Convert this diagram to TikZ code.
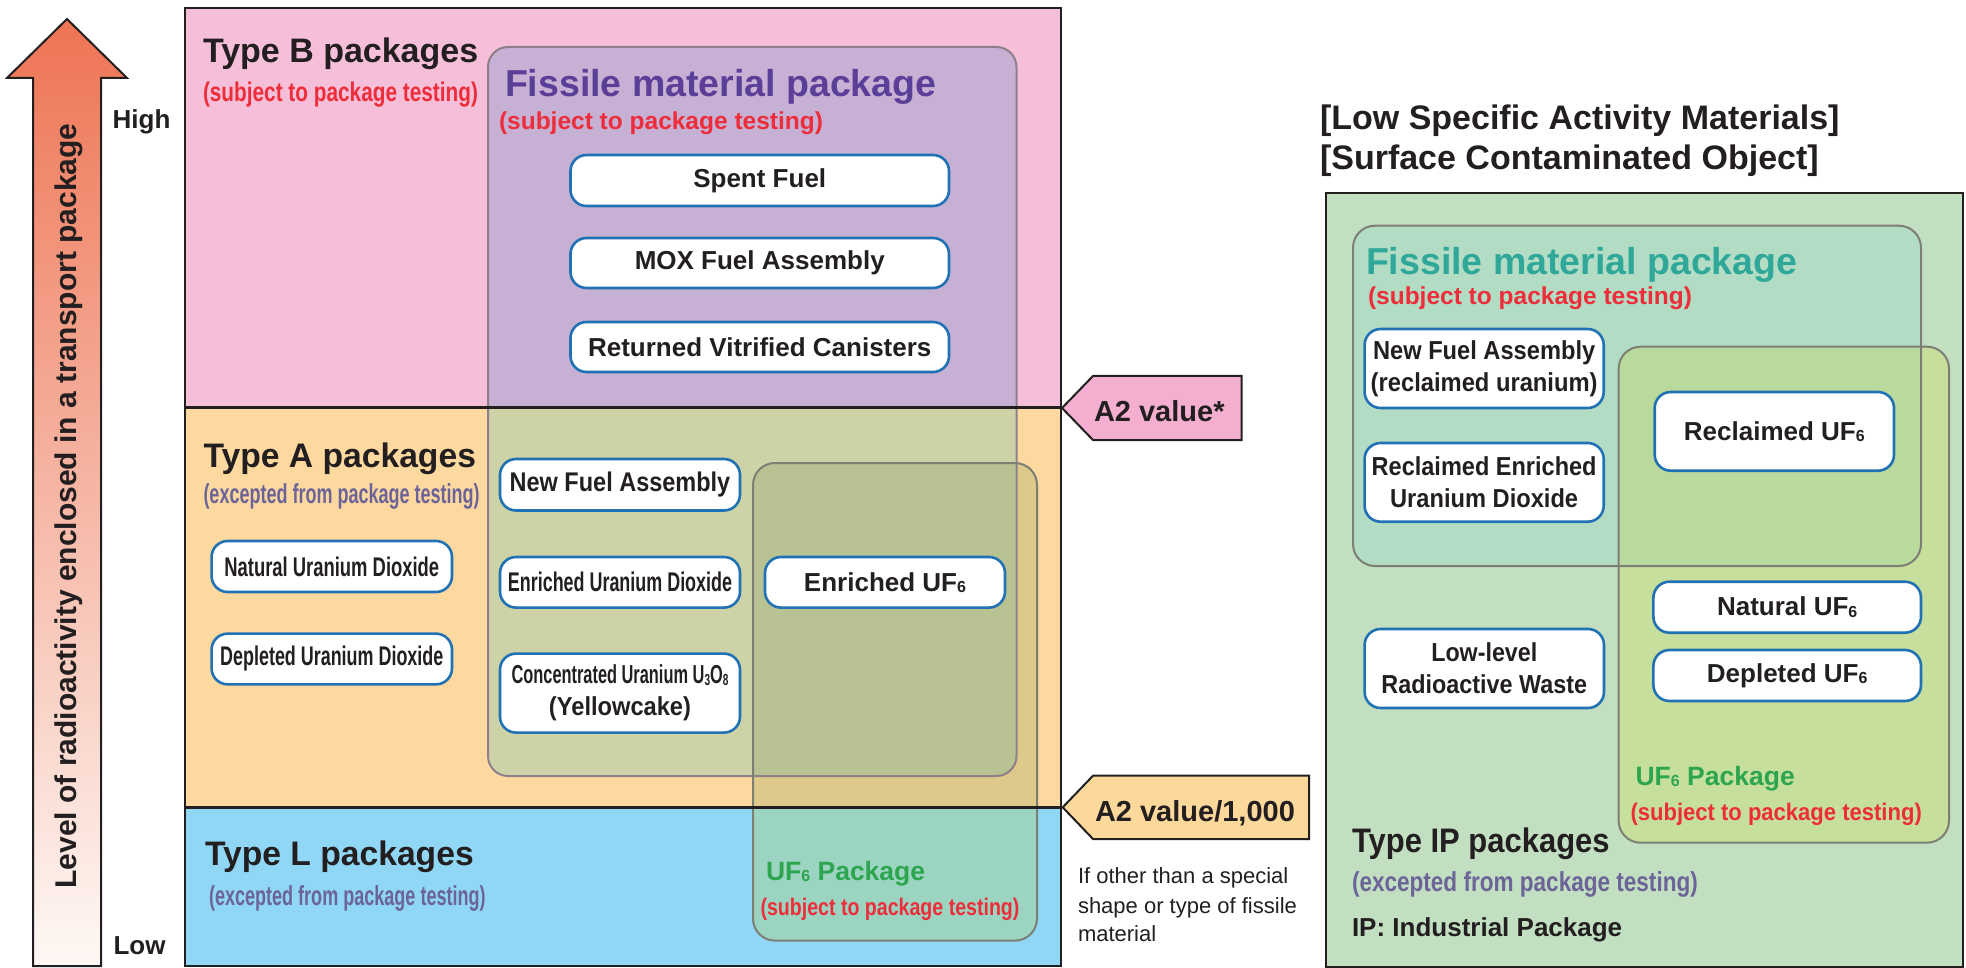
\documentclass[tikz,border=0pt]{standalone}
\usepackage{fontspec}
\setmainfont{Liberation Sans}
\usepackage{graphicx}
\definecolor{ink}{HTML}{231F20}
\definecolor{pinkB}{HTML}{F6BFD9}
\definecolor{orA}{HTML}{FDD9A0}
\definecolor{blL}{HTML}{8FD7F5}
\definecolor{fisU}{HTML}{C6B0D4}
\definecolor{fisL}{HTML}{CED3A7}
\definecolor{uOr}{HTML}{DDCA8B}
\definecolor{uFis}{HTML}{B8C292}
\definecolor{uBl}{HTML}{9BD4C1}
\definecolor{redT}{HTML}{EE2D3A}
\definecolor{excT}{HTML}{6C6498}
\definecolor{purT}{HTML}{5B3E98}
\definecolor{tealT}{HTML}{2FA89A}
\definecolor{grnT}{HTML}{2DA54F}
\definecolor{boxB}{HTML}{2171B5}
\definecolor{panG}{HTML}{C2E0C1}
\definecolor{fisG}{HTML}{B3DCC4}
\definecolor{uG}{HTML}{C6DF9C}
\definecolor{uGF}{HTML}{B9DA9C}
\definecolor{tagP}{HTML}{F4AFD0}
\definecolor{tagO}{HTML}{FDD89B}
\definecolor{arrT}{HTML}{EE7454}
\definecolor{arrB}{HTML}{FEF8F5}
\definecolor{edgeF}{HTML}{8E7F8B}
\definecolor{edgeU}{HTML}{7D7F74}
\newcommand{\sq}[3]{\scalebox{#2}[1]{\fontsize{#1pt}{#1pt}\selectfont\bfseries #3}}
\newcommand{\subd}[1]{\raisebox{-0.6pt}{\fontsize{8pt}{8pt}\selectfont\bfseries #1}}
\tikzset{
  lbl/.style={anchor=base west, inner sep=0pt, outer sep=0pt, text=ink},
  wbox/.style={draw=boxB, line width=1.3pt, fill=white, rounded corners=8pt,
    inner sep=0pt, text=ink, align=center, font=\fontsize{13pt}{16pt}\selectfont},
  frame/.style={draw=ink, line width=1pt},
  tag/.style={draw=ink, line width=1pt}
}
\begin{document}
\begin{tikzpicture}[x=0.5pt,y=-0.5pt]
\useasboundingbox (0,0) rectangle (1966,968);
\fill[white] (0,0) rectangle (1966,968);

% ---------- vertical arrow ----------
\shadedraw[top color=arrT, bottom color=arrB, draw=ink, line width=1pt]
  (33,966) -- (33,78) -- (7,78) -- (67,19) -- (127,78) -- (101,78) -- (101,966) -- cycle;
\node[rotate=90, inner sep=0pt, text=ink, font=\fontsize{15pt}{15pt}\selectfont\bfseries]
  (lvl) at (69,506) {Level of radioactivity enclosed in a transport package};
\node[anchor=base, inner sep=0pt, text=ink] (high) at (141.5,129) {\sq{13}{1}{High}};
\node[anchor=base, inner sep=0pt, text=ink] (low) at (139.5,954) {\sq{13}{1}{Low}};

% ---------- left main box ----------
\fill[pinkB] (185,8) rectangle (1061,407.5);
\fill[orA] (185,407.5) rectangle (1061,807.5);
\fill[blL] (185,807.5) rectangle (1061,966);

\begin{scope}
  \clip (185,8) rectangle (1061,407.5);
  \fill[fisU, rounded corners=10pt] (488,47) rectangle (1016.5,776);
\end{scope}
\begin{scope}
  \clip (185,407.5) rectangle (1061,966);
  \fill[fisL, rounded corners=10pt] (488,47) rectangle (1016.5,776);
\end{scope}
\begin{scope}
  \clip (185,407.5) rectangle (1061,807.5);
  \fill[uOr, rounded corners=11pt] (753,463) rectangle (1037,940.6);
  \clip[rounded corners=10pt] (488,47) rectangle (1016.5,776);
  \fill[uFis, rounded corners=11pt] (753,463) rectangle (1037,940.6);
\end{scope}
\begin{scope}
  \clip (185,807.5) rectangle (1061,966);
  \fill[uBl, rounded corners=11pt] (753,463) rectangle (1037,940.6);
\end{scope}

\draw[edgeF, line width=1pt, rounded corners=10pt] (488,47) rectangle (1016.5,776);
\draw[edgeU, line width=1pt, rounded corners=11pt] (753,463) rectangle (1037,940.6);
\draw[ink, line width=1.2pt] (185,407.5) -- (1061,407.5);
\draw[ink, line width=1.2pt] (185,807.5) -- (1061,807.5);
\draw[frame] (185,8) rectangle (1061,966);

% titles left
\node[lbl] (tB) at (203,63) {\sq{17}{1}{Type B packages}};
\node[lbl, text=redT] (tBs) at (203,102) {\sq{13.5}{0.77}{(subject to package testing)}};
\node[lbl, text=purT] (fL) at (505,97) {\sq{18.75}{1}{Fissile material package}};
\node[lbl, text=redT] (fLs) at (499,130) {\sq{12.25}{1}{(subject to package testing)}};
\node[lbl] (tA) at (203.5,467) {\sq{17}{0.99}{Type A packages}};
\node[lbl, text=excT] (tAs) at (203.5,503) {\sq{13.75}{0.655}{(excepted from package testing)}};
\node[lbl] (tL) at (205,865.6) {\sq{17}{0.99}{Type L packages}};
\node[lbl, text=excT] (tLs) at (209,905) {\sq{13.75}{0.656}{(excepted from package testing)}};
\node[lbl, text=grnT] (uL) at (766,880) {\sq{13.25}{1}{UF\subd{6} Package}};
\node[lbl, text=redT] (uLs) at (760.5,915) {\sq{12}{0.816}{(subject to package testing)}};

% white boxes left
\node[wbox, minimum width=189.25pt, minimum height=25.5pt] (spent) at (759.75,180.5) {\sq{13}{1}{Spent Fuel}};
\node[wbox, minimum width=189.25pt, minimum height=25pt] (mox) at (759.75,263) {\sq{13}{1}{MOX Fuel Assembly}};
\node[wbox, minimum width=189.25pt, minimum height=25pt] (ret) at (759.75,347) {\sq{13}{1}{Returned Vitrified Canisters}};
\node[wbox, minimum width=120.2pt, minimum height=25.5pt] (nat) at (331.8,566.5) {\sq{13.5}{0.682}{Natural Uranium Dioxide}};
\node[wbox, minimum width=120.2pt, minimum height=25.35pt] (dep) at (331.8,659) {\sq{13.5}{0.664}{Depleted Uranium Dioxide}};
\node[wbox, minimum width=120pt, minimum height=25.75pt] (nfa) at (620,484.75) {\sq{13.5}{0.87}{New Fuel Assembly}};
\node[wbox, minimum width=120pt, minimum height=25.3pt] (eud) at (620,582.3) {\sq{13.5}{0.664}{Enriched Uranium Dioxide}};
\node[wbox, minimum width=120pt, minimum height=39.5pt] (conc) at (620,693.1)
  {\sq{13}{0.63}{Concentrated Uranium U\subd{3}O\subd{8}}\\\sq{13}{0.91}{(Yellowcake)}};
\node[wbox, minimum width=120pt, minimum height=25.3pt] (euf) at (885,582.3) {\sq{13}{1}{Enriched UF\subd{6}}};

% tags
\filldraw[fill=tagP, tag] (1062,408) -- (1093,376) -- (1241.7,376) -- (1241.7,440) -- (1093,440) -- cycle;
\node[lbl] (a2) at (1094,422) {\sq{14.5}{1}{A2 value*}};
\filldraw[fill=tagO, tag] (1062.7,807.3) -- (1093,775.7) -- (1309,775.7) -- (1309,839) -- (1093,839) -- cycle;
\node[lbl] (a2k) at (1095,821) {\sq{14.5}{1}{A2 value/1,000}};
\node[lbl, font=\fontsize{11pt}{11pt}\selectfont] (n1) at (1078,883) {If other than a special};
\node[lbl, font=\fontsize{11pt}{11pt}\selectfont] (n2) at (1078,913) {shape or type of fissile};
\node[lbl, font=\fontsize{11pt}{11pt}\selectfont] (n3) at (1078,941.7) {material};

% ---------- right panel ----------
\node[lbl] (h1) at (1320,130) {\sq{17}{1}{[Low Specific Activity Materials]}};
\node[lbl] (h2) at (1320,170) {\sq{17}{1}{[Surface Contaminated Object]}};
\fill[panG] (1325.5,193) rectangle (1963,966.7);
\fill[fisG, rounded corners=11pt] (1353,225.7) rectangle (1921,566);
\fill[uG, rounded corners=11pt] (1618.6,346.7) rectangle (1949,842.7);
\begin{scope}
  \clip[rounded corners=11pt] (1353,225.7) rectangle (1921,566);
  \fill[uGF, rounded corners=11pt] (1618.6,346.7) rectangle (1949,842.7);
\end{scope}
\draw[edgeU, line width=1pt, rounded corners=11pt] (1353,225.7) rectangle (1921,566);
\draw[edgeU, line width=1pt, rounded corners=11pt] (1618.6,346.7) rectangle (1949,842.7);
\draw[frame] (1325.5,193) rectangle (1963,966.7);

\node[lbl, text=tealT] (fR) at (1366,275) {\sq{18.75}{1}{Fissile material package}};
\node[lbl, text=redT] (fRs) at (1368,305) {\sq{12.25}{1}{(subject to package testing)}};
\node[lbl, text=grnT] (uR) at (1635.6,785) {\sq{13.25}{1}{UF\subd{6} Package}};
\node[lbl, text=redT] (uRs) at (1630.5,820) {\sq{12}{0.918}{(subject to package testing)}};
\node[lbl] (tIP) at (1352,852.7) {\sq{17}{0.911}{Type IP packages}};
\node[lbl, text=excT] (tIPs) at (1352,891) {\sq{13.75}{0.82}{(excepted from package testing)}};
\node[lbl] (ipd) at (1352,936.7) {\sq{13}{1}{IP: Industrial Package}};

\node[wbox, minimum width=119.55pt, minimum height=39.5pt] (nfr) at (1484.15,368.5)
  {\sq{13}{0.91}{New Fuel Assembly}\\\sq{13}{0.913}{(reclaimed uranium)}};
\node[wbox, minimum width=119.55pt, minimum height=39.35pt] (reu) at (1484.15,482.35)
  {\sq{13}{0.905}{Reclaimed Enriched}\\\sq{13}{0.91}{Uranium Dioxide}};
\node[wbox, minimum width=119.65pt, minimum height=39.35pt] (ruf) at (1774.35,431.35) {\sq{13}{1}{Reclaimed UF\subd{6}}};
\node[wbox, minimum width=133.8pt, minimum height=25.5pt] (nuf) at (1787.2,607.2) {\sq{13}{1}{Natural UF\subd{6}}};
\node[wbox, minimum width=133.8pt, minimum height=25.5pt] (duf) at (1787.2,675.5) {\sq{13}{1}{Depleted UF\subd{6}}};
\node[wbox, minimum width=119.7pt, minimum height=39.5pt] (llw) at (1484.3,668.5)
  {\sq{13}{0.895}{Low-level}\\\sq{13}{0.9}{Radioactive Waste}};
\end{tikzpicture}
\end{document}
